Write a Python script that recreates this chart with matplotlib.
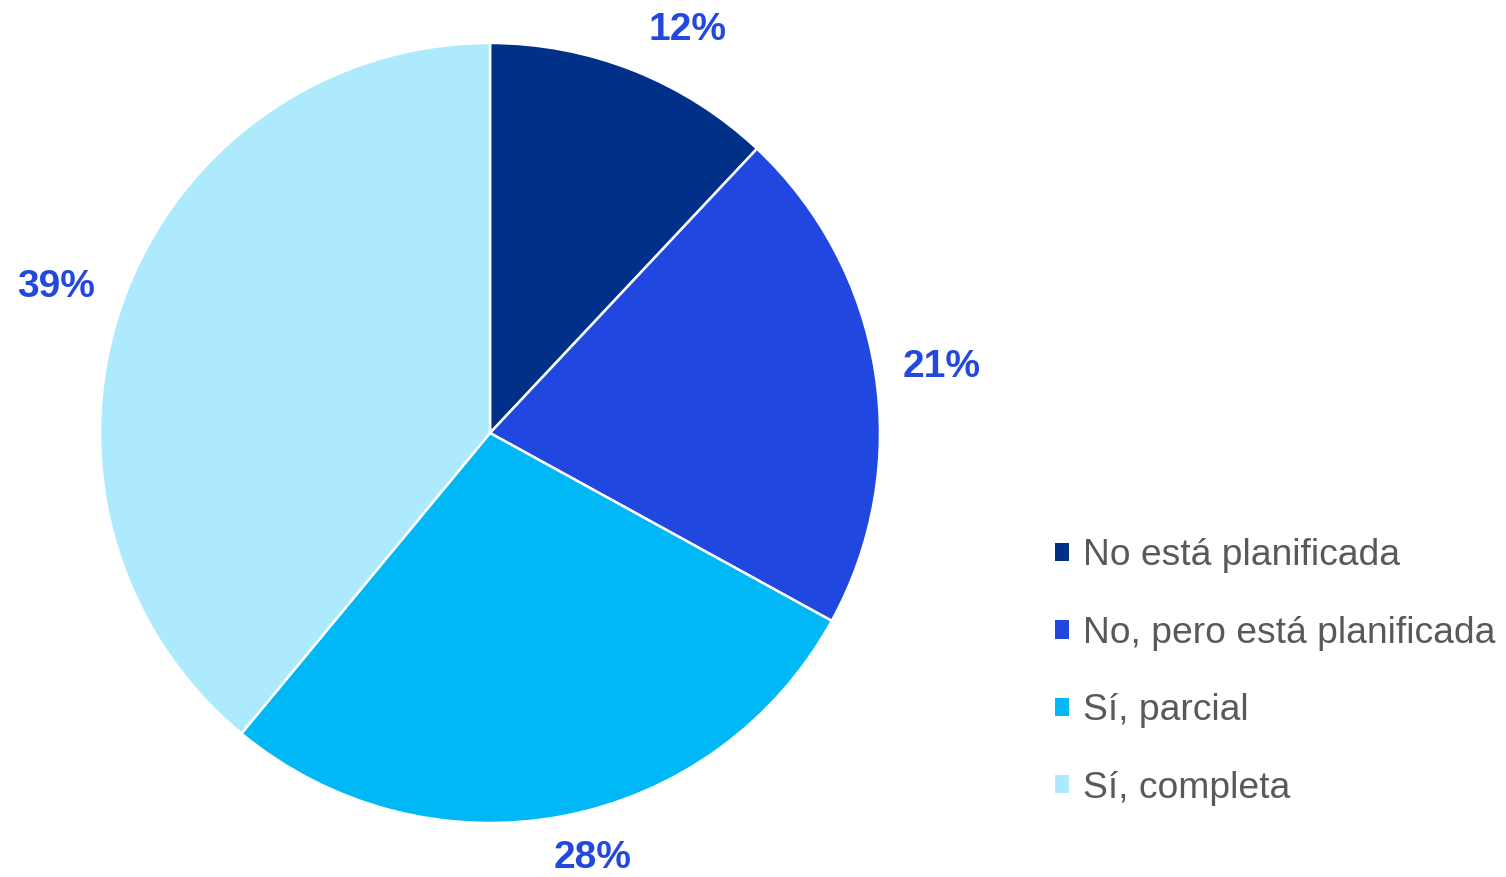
import numpy as np
import matplotlib
matplotlib.use("Agg")
import matplotlib.pyplot as plt
from matplotlib.patches import Patch

plt.rcParams['font.family'] = ['Liberation Sans', 'DejaVu Sans']

categories = ["No está planificada", "No, pero está planificada", "Sí, parcial", "Sí, completa"]
values = [12, 21, 28, 39]
colors = ["#003087", "#2048E0", "#00B8F5", "#AEEAFD"]
label_color = "#2348E0"
legend_text_color = "#595959"

W, H = 1506, 877
fig = plt.figure(figsize=(W / 100, H / 100), dpi=100)
cx, cy, r = 490, 433, 390
ax = fig.add_axes([(cx - r) / W, (H - cy - r) / H, 2 * r / W, 2 * r / H])

wedges, texts, autotexts = ax.pie(
    values, colors=colors, startangle=90, counterclock=False,
    autopct=lambda p: f"{p:.0f}%", pctdistance=1.165, radius=1.0,
    wedgeprops=dict(edgecolor="white", linewidth=1.8),
    textprops=dict(color=label_color, fontsize=28, fontweight="bold"),
)
# label placement tweaks (distance, angle shift in degrees) so labels stay inside the canvas
label_adjust = [(1.15, -4.5), (1.17, -0.7), (1.12, 2.8), (1.174, 1.2)]
for w, t, (d, da) in zip(wedges, autotexts, label_adjust):
    ang = np.deg2rad((w.theta1 + w.theta2) / 2 + da)
    t.set_position((d * np.cos(ang), d * np.sin(ang)))

ax.set_xlim(-1, 1)
ax.set_ylim(-1, 1)
ax.set_aspect("equal")
ax.axis("off")

handles = [Patch(facecolor=c, edgecolor="none") for c in colors]
leg = fig.legend(
    handles, categories, loc="center left",
    bbox_to_anchor=(1055 / W, 1 - 672 / H),
    frameon=False, fontsize=26.8, handlelength=0.38, handleheight=0.38,
    handletextpad=0.38, labelspacing=1.14, borderpad=0, borderaxespad=0,
)
for t in leg.get_texts():
    t.set_color(legend_text_color)

fig.savefig("out.png", dpi=100)
